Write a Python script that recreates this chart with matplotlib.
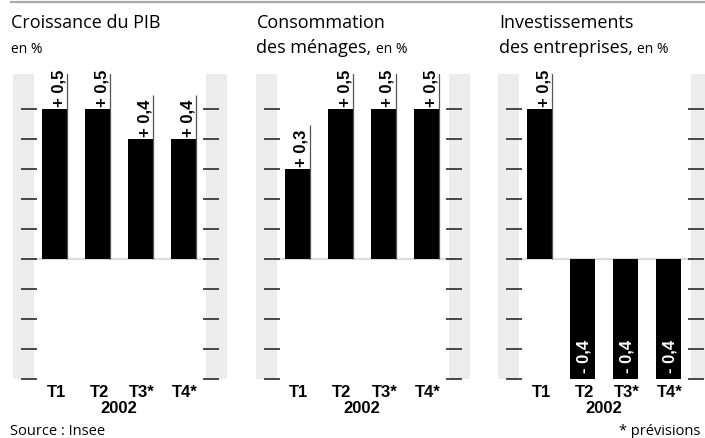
import numpy as np
import matplotlib.pyplot as plt
from matplotlib.lines import Line2D

plt.rcParams['font.family'] = ['Open Sans', 'DejaVu Sans']
BOLD = ['Liberation Sans', 'DejaVu Sans']

# quarterly changes, in %
quarters = ['T1', 'T2', 'T3*', 'T4*']
year = '2002'
pib = [0.5, 0.5, 0.4, 0.4]
conso = [0.3, 0.5, 0.5, 0.5]
invest = [0.5, -0.4, -0.4, -0.4]
tick_values = [-0.4, -0.3, -0.2, -0.1, 0.0, 0.1, 0.2, 0.3, 0.4, 0.5]

titles = [('Croissance du PIB', '', 'en %'),
          ('Consommation', 'des ménages,', 'en %'),
          ('Investissements', 'des entreprises,', 'en %')]
series = [pib, conso, invest]

W, H = 705, 439
fig = plt.figure(figsize=(W / 100, H / 100), dpi=100)

def fx(x):
    return x / W

def fy(y):
    return 1 - y / H

# thin grey rule across the top
fig.add_artist(Line2D([fx(11), 1], [fy(2.5), fy(2.5)], color='#aaaaaa', lw=1.6))

step = 43.0          # px between bar centres
bar_w = 25 / step
band = 21 / step
panel_w = 214
top, bottom, zero_px, scale = 75, 380, 259.5, 300.0
ylim = (-(bottom - zero_px) / scale, (zero_px - top) / scale)
xlim = (-41.5 / step, (panel_w - 41.5) / step)

def ay(y):
    # pixel row -> axes fraction
    return (bottom - y) / (bottom - top)

fig.canvas.draw()
renderer = fig.canvas.get_renderer()

for left, vals, (t1, t2, small) in zip([13, 255.5, 498], series, titles):
    ax = fig.add_axes([fx(left), (H - bottom) / H, panel_w / W, (bottom - top) / H])
    ax.set_xlim(*xlim)
    ax.set_ylim(*ylim)
    ax.axis('off')

    # grey side bands with tick marks
    ax.axvspan(xlim[0], xlim[0] + band, color='#ececec', lw=0, zorder=0)
    ax.axvspan(xlim[1] - band, xlim[1], color='#ececec', lw=0, zorder=0)
    for v in tick_values:
        ax.hlines(v, xlim[0] + 8 / step, xlim[0] + 24 / step, color='#2a2a2a',
                  lw=1.2, zorder=2, clip_on=False)
        ax.hlines(v, xlim[1] - band - 3 / step, xlim[1] - band + 13 / step,
                  color='#2a2a2a', lw=1.2, zorder=2, clip_on=False)
    ax.hlines(0, xlim[0] + band, xlim[1] - band, color='#dddddd', lw=1.6, zorder=1)

    x = np.arange(len(vals))
    ax.bar(x, vals, width=bar_w, color='black', zorder=3)

    for i, v in zip(x, vals):
        txt = ('+ ' if v > 0 else '- ') + f'{abs(v):.1f}'.replace('.', ',')
        if v > 0:
            xr = i + bar_w / 2
            ax.vlines(xr, 0, v + 0.145, color='#555555', lw=0.9, zorder=4)
            ax.text(xr - 0.5 / step, v + 0.008, txt, rotation=90, ha='right',
                    va='bottom', fontsize=12, fontweight='bold', family=BOLD, zorder=5)
        else:
            ax.text(i + 0.03, v + 0.022, txt, rotation=90, ha='center',
                    va='bottom', fontsize=12, fontweight='bold', family=BOLD,
                    color='white', zorder=5)

    # quarter labels and year
    for i, q in zip(x, quarters):
        ax.text(i + 0.04, ay(397), q, transform=ax.get_xaxis_transform(),
                ha='center', va='baseline', fontsize=12, fontweight='bold',
                family=BOLD, clip_on=False)
    ax.text(1.5, ay(413), year, transform=ax.get_xaxis_transform(), ha='center',
            va='baseline', fontsize=12, fontweight='bold', family=BOLD, clip_on=False)

    # panel title
    tx = left - 2 if left < 100 else left + 1
    fig.text(fx(tx), fy(28), t1, fontsize=13, va='baseline')
    if t2:
        t = fig.text(fx(tx), fy(53), t2, fontsize=13, va='baseline')
        bb = t.get_window_extent(renderer)
        fig.text(bb.x1 / W + fx(4), fy(53), small, fontsize=10, va='baseline')
    else:
        fig.text(fx(tx), fy(53), small, fontsize=10, va='baseline')

fig.text(fx(10), fy(435), 'Source : Insee', fontsize=10.5, va='baseline')
fig.text(fx(700), fy(435), '* prévisions', fontsize=10.5, va='baseline', ha='right')

fig.savefig('out.png', dpi=100)
